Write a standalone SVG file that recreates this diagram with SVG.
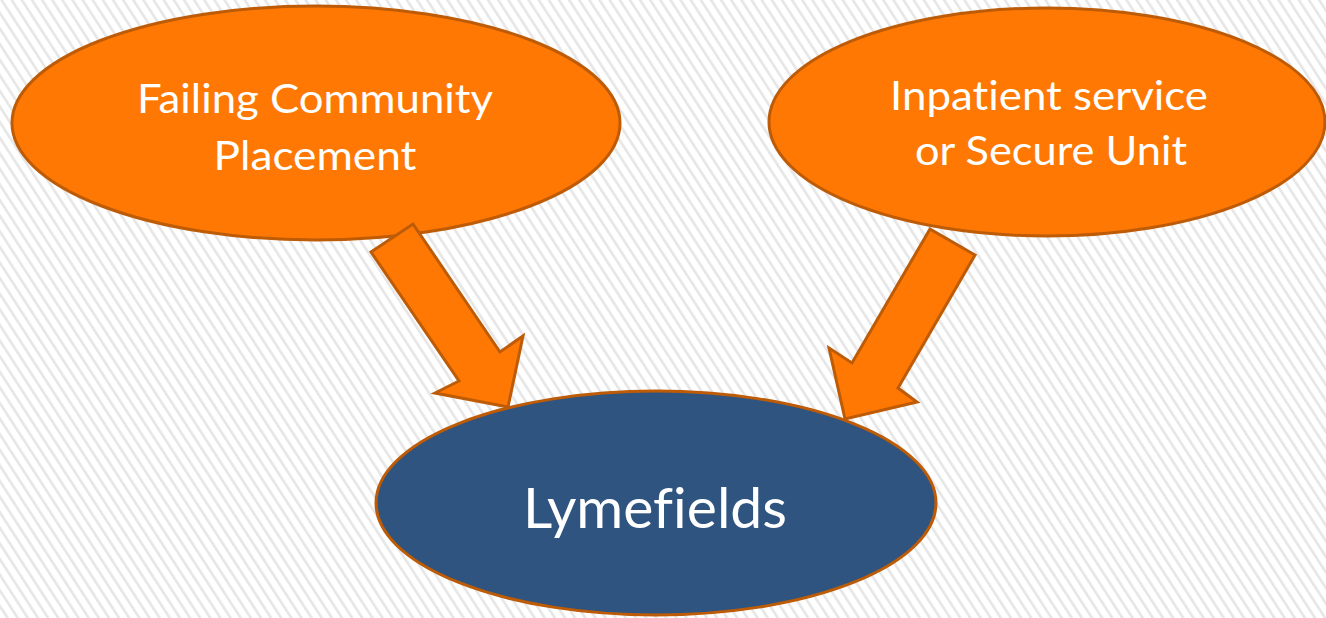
<svg xmlns="http://www.w3.org/2000/svg" width="1326" height="618" viewBox="0 0 1326 618">
  <defs>
    <pattern id="stripes" width="8.5" height="8.5" patternUnits="userSpaceOnUse" patternTransform="rotate(-33)">
      <rect width="8.5" height="8.5" fill="#ffffff"/>
      <rect x="0" y="0" width="2.6" height="8.5" fill="#e6e6e6"/>
    </pattern>
  </defs>
  <style>
    .orange { fill: #FF7803; stroke: #BD5B07; stroke-width: 3; }
    .blue { fill: #2E547F; stroke: #BD5B07; stroke-width: 3; }
    .arrow { fill: #FF7803; stroke: #BD5B07; stroke-width: 3; stroke-linejoin: miter; }
    .lbl { font-family: Lato, "Open Sans", "Liberation Sans", sans-serif; fill: #ffffff; text-anchor: middle; font-variant-ligatures: none; }
  </style>
  <rect width="1326" height="618" fill="url(#stripes)"/>

  <g id="node-failing">
    <ellipse class="orange" cx="316" cy="123" rx="304" ry="117"/>
    <text class="lbl" x="315" y="113" font-size="41" textLength="356" lengthAdjust="spacingAndGlyphs">Failing Community</text>
    <text class="lbl" x="315" y="170" font-size="41" textLength="203" lengthAdjust="spacingAndGlyphs">Placement</text>
  </g>

  <g id="node-inpatient">
    <ellipse class="orange" cx="1047" cy="122" rx="278" ry="114"/>
    <text class="lbl" x="1049" y="110" font-size="41" textLength="318" lengthAdjust="spacingAndGlyphs">Inpatient service</text>
    <text class="lbl" x="1051" y="165" font-size="41" textLength="272" lengthAdjust="spacingAndGlyphs">or Secure Unit</text>
  </g>

  <g id="connectors">
    <polygon class="arrow" points="371,252 413,224 500,352 523,336 508,407 435,393 459,381"/>
    <polygon class="arrow" points="930,229 975,255 898,388 917,402 845,419 829,348 852,363"/>
  </g>

  <g id="node-lymefields">
    <ellipse class="blue" cx="656" cy="503" rx="280" ry="112"/>
    <text class="lbl" x="655" y="528" font-size="57" textLength="264" lengthAdjust="spacingAndGlyphs">Lymefields</text>
  </g>
</svg>
